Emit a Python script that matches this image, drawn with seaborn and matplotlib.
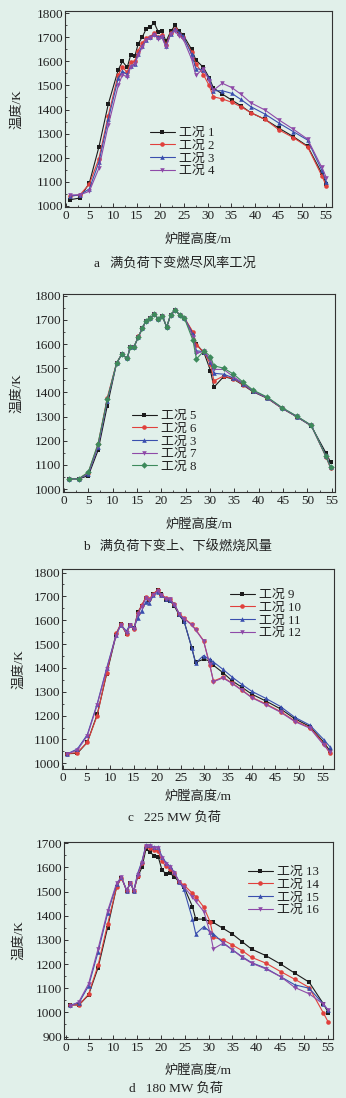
import pandas as pd
import numpy as np
import matplotlib.pyplot as plt
import seaborn as sns
from matplotlib.ticker import MultipleLocator

###############################################################
# values (furnace height m, temperature K)

a_x = [1, 3, 5, 7, 9, 11.1, 12, 13, 13.7, 14.6, 15.3, 16.2, 17, 17.8, 18.7, 19.6, 20.3, 21.2, 22.2, 23.1,
       24, 24.8, 26.6, 27.5, 29.1, 30.3, 31.2, 33.1, 35.1, 37, 39.1, 42.1, 45.1, 48.1, 51.1, 54.1, 55.1]
a_case1 = [1025, 1032, 1095, 1243, 1423, 1565, 1600, 1575, 1625, 1621, 1672, 1702, 1735, 1743, 1760, 1721, 1725, 1684, 1725, 1750,
           1725, 1711, 1650, 1606, 1575, 1533, 1490, 1464, 1439, 1416, 1387, 1359, 1322, 1287, 1248, 1135, 1090]
a_case2 = [1040, 1045, 1090, 1195, 1375, 1545, 1575, 1555, 1596, 1600, 1645, 1677, 1697, 1702, 1718, 1700, 1710, 1670, 1718, 1735,
           1715, 1700, 1640, 1590, 1545, 1500, 1453, 1444, 1430, 1412, 1387, 1359, 1315, 1283, 1245, 1125, 1081]
a_case3 = [1040, 1045, 1070, 1180, 1360, 1530, 1559, 1545, 1580, 1590, 1630, 1665, 1690, 1700, 1712, 1700, 1705, 1662, 1715, 1735,
           1720, 1705, 1630, 1570, 1565, 1530, 1478, 1478, 1467, 1442, 1412, 1381, 1343, 1308, 1273, 1148, 1097]
a_case4 = [1045, 1045, 1060, 1155, 1335, 1500, 1545, 1535, 1575, 1588, 1625, 1660, 1690, 1697, 1710, 1695, 1700, 1660, 1715, 1725,
           1705, 1695, 1610, 1542, 1570, 1520, 1480, 1509, 1491, 1464, 1428, 1398, 1356, 1318, 1277, 1160, 1116]

b_x = [1, 3, 5, 7, 8.9, 10.8, 11.85, 13, 13.6, 14.4, 15.3, 16.1, 16.85, 17.7, 18.5, 19.4, 20.2, 21.1, 21.9, 22.8,
       23.8, 24.7, 26.5, 27.2, 28.8, 30.1, 30.8, 32.8, 34.8, 36.8, 38.8, 41.8, 44.8, 47.8, 50.8, 53.8, 54.8]
b_case5 = [1042, 1042, 1055, 1160, 1345, 1520, 1557, 1541, 1587, 1589, 1630, 1665, 1697, 1706, 1723, 1704, 1717, 1670, 1720, 1741,
           1720, 1709, 1645, 1600, 1562, 1490, 1421, 1465, 1455, 1430, 1403, 1375, 1334, 1299, 1261, 1150, 1110]
b_case6 = [1042, 1042, 1068, 1185, 1378, 1522, 1557, 1541, 1587, 1589, 1632, 1665, 1697, 1706, 1723, 1704, 1717, 1670, 1720, 1741,
           1720, 1709, 1650, 1596, 1565, 1516, 1447, 1468, 1457, 1432, 1405, 1376, 1334, 1300, 1263, 1134, 1085]
b_case3 = [1042, 1042, 1062, 1175, 1365, 1520, 1557, 1541, 1587, 1589, 1630, 1665, 1697, 1706, 1723, 1704, 1717, 1670, 1720, 1741,
           1720, 1709, 1640, 1572, 1568, 1527, 1479, 1475, 1460, 1435, 1405, 1377, 1335, 1300, 1263, 1138, 1090]
b_case7 = [1042, 1042, 1065, 1180, 1370, 1520, 1557, 1541, 1587, 1589, 1630, 1665, 1697, 1706, 1723, 1704, 1717, 1670, 1720, 1741,
           1720, 1709, 1630, 1562, 1570, 1535, 1495, 1495, 1465, 1438, 1407, 1378, 1336, 1301, 1263, 1136, 1088]
b_case8 = [1042, 1042, 1070, 1188, 1372, 1520, 1557, 1541, 1587, 1589, 1630, 1665, 1697, 1706, 1723, 1704, 1717, 1670, 1720, 1741,
           1720, 1709, 1615, 1538, 1572, 1548, 1510, 1500, 1476, 1442, 1410, 1380, 1337, 1302, 1264, 1136, 1090]

c_x = [1, 3.1, 5.2, 7.3, 9.3, 11.3, 12.3, 13.5, 14.2, 15.1, 15.9, 16.7, 17.6, 18.3, 19.2, 20.1, 20.9, 21.9, 22.7, 23.6,
       24.7, 25.7, 27.3, 28.1, 29.8, 31.1, 31.9, 33.9, 35.9, 37.9, 40.0, 43.0, 46.1, 49.1, 52.3, 55.3, 56.5]
c_case9 = [1040, 1042, 1088, 1205, 1375, 1538, 1585, 1543, 1580, 1566, 1634, 1661, 1695, 1685, 1709, 1727, 1709, 1685, 1682, 1660,
           1620, 1594, 1485, 1424, 1436, 1430, 1411, 1380, 1345, 1319, 1290, 1261, 1228, 1187, 1154, 1087, 1053]
c_case10 = [1040, 1045, 1088, 1200, 1380, 1545, 1585, 1543, 1578, 1563, 1632, 1662, 1697, 1688, 1712, 1727, 1708, 1692, 1690, 1667,
            1627, 1608, 1583, 1562, 1515, 1412, 1345, 1361, 1336, 1308, 1277, 1249, 1217, 1178, 1150, 1081, 1042]
c_case11 = [1040, 1060, 1120, 1250, 1399, 1540, 1580, 1555, 1580, 1570, 1610, 1639, 1678, 1672, 1705, 1718, 1705, 1690, 1685, 1668,
            1625, 1595, 1485, 1420, 1452, 1436, 1425, 1394, 1361, 1331, 1302, 1272, 1238, 1193, 1160, 1098, 1070]
c_case12 = [1040, 1055, 1115, 1245, 1395, 1535, 1582, 1548, 1578, 1565, 1628, 1655, 1692, 1685, 1708, 1724, 1706, 1690, 1688, 1665,
            1625, 1606, 1580, 1560, 1513, 1416, 1342, 1358, 1334, 1306, 1275, 1246, 1214, 1175, 1147, 1075, 1048]

d_x = [1, 2.8, 4.8, 6.8, 8.8, 10.7, 11.7, 12.8, 13.6, 14.3, 15.1, 16.0, 16.85, 17.7, 18.5, 19.4, 20.2, 21.05, 21.9, 22.8,
       23.8, 24.8, 26.6, 27.3, 29.0, 30.3, 31.0, 33.0, 35.0, 37.0, 39.0, 42.0, 45.1, 48.1, 51.1, 54.1, 55.1]
d_case13 = [1031, 1031, 1072, 1185, 1351, 1520, 1558, 1504, 1535, 1503, 1560, 1600, 1676, 1663, 1649, 1645, 1590, 1573, 1576, 1560,
            1541, 1520, 1438, 1386, 1386, 1376, 1372, 1348, 1324, 1293, 1262, 1235, 1200, 1162, 1125, 1035, 999]
d_case14 = [1031, 1031, 1075, 1195, 1365, 1520, 1558, 1504, 1535, 1503, 1565, 1620, 1688, 1680, 1672, 1668, 1625, 1605, 1595, 1575,
            1541, 1527, 1493, 1479, 1435, 1375, 1311, 1300, 1279, 1256, 1228, 1204, 1169, 1137, 1103, 997, 960]
d_case15 = [1031, 1040, 1110, 1250, 1410, 1530, 1560, 1504, 1537, 1503, 1575, 1625, 1693, 1693, 1684, 1684, 1645, 1620, 1605, 1580,
            1541, 1510, 1387, 1325, 1355, 1334, 1325, 1289, 1259, 1231, 1206, 1183, 1148, 1114, 1100, 1034, 1008]
d_case16 = [1025, 1045, 1118, 1263, 1420, 1535, 1560, 1504, 1537, 1503, 1570, 1620, 1690, 1688, 1680, 1680, 1640, 1615, 1600, 1578,
            1541, 1520, 1477, 1459, 1417, 1330, 1263, 1286, 1259, 1228, 1204, 1180, 1148, 1103, 1077, 1034, 1010]

captions = ["a   满负荷下变燃尽风率工况", "b   满负荷下变上、下级燃烧风量", "c   225 MW 负荷", "d   180 MW 负荷"]

###############################################################
# styling

BG = '#e1f0ea'
sns.set_style('ticks')
plt.rcParams['font.family'] = ['Liberation Serif', 'Noto Sans CJK SC']
plt.rcParams['axes.unicode_minus'] = False

col = {'k': '#1c1c1c', 'r': '#e0403c', 'b': '#3a4fae', 'p': '#8e4aa8', 'g': '#3d8a5c'}

panels = [
    dict(x=a_x, series=[('工况 1', a_case1, 'k', 's'), ('工况 2', a_case2, 'r', 'o'),
                        ('工况 3', a_case3, 'b', '^'), ('工况 4', a_case4, 'p', 'v')],
         box=(65, 11, 332, 207), xlim=(-0.15, 56.27), ylim=(994.6, 1809.6), yt=(1000, 1800),
         leg=(150, 127), ylab=-0.157, xlab=-0.133, cap=(175, 263)),
    dict(x=b_x, series=[('工况 5', b_case5, 'k', 's'), ('工况 6', b_case6, 'r', 'o'),
                        ('工况 3', b_case3, 'b', '^'), ('工况 7', b_case7, 'p', 'v'),
                        ('工况 8', b_case8, 'g', 'D')],
         box=(63, 294, 335, 492), xlim=(-0.2, 55.68), ylim=(987.6, 1807), yt=(1000, 1800),
         leg=(132, 410), ylab=-0.147, xlab=-0.131, cap=(178, 547)),
    dict(x=c_x, series=[('工况 9', c_case9, 'k', 's'), ('工况 10', c_case10, 'r', 'o'),
                        ('工况 11', c_case11, 'b', '^'), ('工况 12', c_case12, 'p', 'v')],
         box=(62, 569, 334, 769), xlim=(-0.15, 57.4), ylim=(976, 1815), yt=(1000, 1800),
         leg=(230, 589), ylab=-0.136, xlab=-0.105, cap=(174, 817)),
    dict(x=d_x, series=[('工况 13', d_case13, 'k', 's'), ('工况 14', d_case14, 'r', 'o'),
                        ('工况 15', d_case15, 'b', '^'), ('工况 16', d_case16, 'p', 'v')],
         box=(64, 842, 333, 1039), xlim=(-0.35, 56.1), ylim=(890, 1705), yt=(900, 1700),
         leg=(248, 866), ylab=-0.145, xlab=-0.127, cap=(176, 1088)),
]

W, H = 346, 1098
fig = plt.figure(figsize=(W / 100, H / 100), dpi=100, facecolor=BG)

for p, cap in zip(panels, captions):
    l, t, r, b = p['box']
    ax = fig.add_axes([l / W, 1 - b / H, (r - l) / W, (b - t) / H])
    ax.set_facecolor(BG)

    rows = []
    for name, vals, c, m in p['series']:
        for xv, yv in zip(p['x'], vals):
            rows.append((name, xv, yv))
    df = pd.DataFrame(rows, columns=['case', 'h', 'T'])
    names = [s[0] for s in p['series']]
    sns.lineplot(data=df, x='h', y='T', hue='case', style='case', hue_order=names, style_order=names,
                 palette=[col[s[2]] for s in p['series']], markers=[s[3] for s in p['series']],
                 dashes=False, sort=False, estimator=None, lw=0.8, markersize=3.3,
                 markeredgewidth=0, ax=ax)

    ax.set_xlim(*p['xlim'])
    ax.set_ylim(*p['ylim'])
    ax.set_xticks(np.arange(0, 56, 5))
    ax.set_yticks(np.arange(p['yt'][0], p['yt'][1] + 1, 100))
    ax.xaxis.set_minor_locator(MultipleLocator(2.5))
    ax.yaxis.set_minor_locator(MultipleLocator(50))
    ax.tick_params(which='both', direction='in', top=False, right=False, colors='#333333',
                   labelcolor='#222222', labelsize=9.5)
    ax.tick_params(which='major', length=3, width=0.7)
    ax.tick_params(which='minor', length=1.6, width=0.6)
    ax.tick_params(axis='y', pad=1.2)
    ax.tick_params(axis='x', pad=2.5)
    for s in ax.spines.values():
        s.set_color('#333333')
        s.set_linewidth(0.8)

    ax.set_xlabel('炉膛高度/m', fontsize=9.5, color='#222222')
    ax.set_ylabel('温度/K', fontsize=9.5, color='#222222')
    ax.xaxis.set_label_coords(0.5, p['xlab'])
    ax.yaxis.set_label_coords(p['ylab'], 0.5)

    handles, labels = ax.get_legend_handles_labels()
    lx, ly = p['leg']
    ax.legend(handles, labels, loc='upper left', bbox_to_anchor=(lx / W, 1 - ly / H),
              bbox_transform=fig.transFigure, frameon=False, fontsize=9.3, borderpad=0,
              borderaxespad=0, labelspacing=0.05, handlelength=1.9, handletextpad=0.35,
              labelcolor='#222222')

    fig.text(p['cap'][0] / W, 1 - p['cap'][1] / H, cap, ha='center', va='center',
             fontsize=9.5, color='#222222')

plt.savefig('out.png', dpi=100, facecolor=BG)
